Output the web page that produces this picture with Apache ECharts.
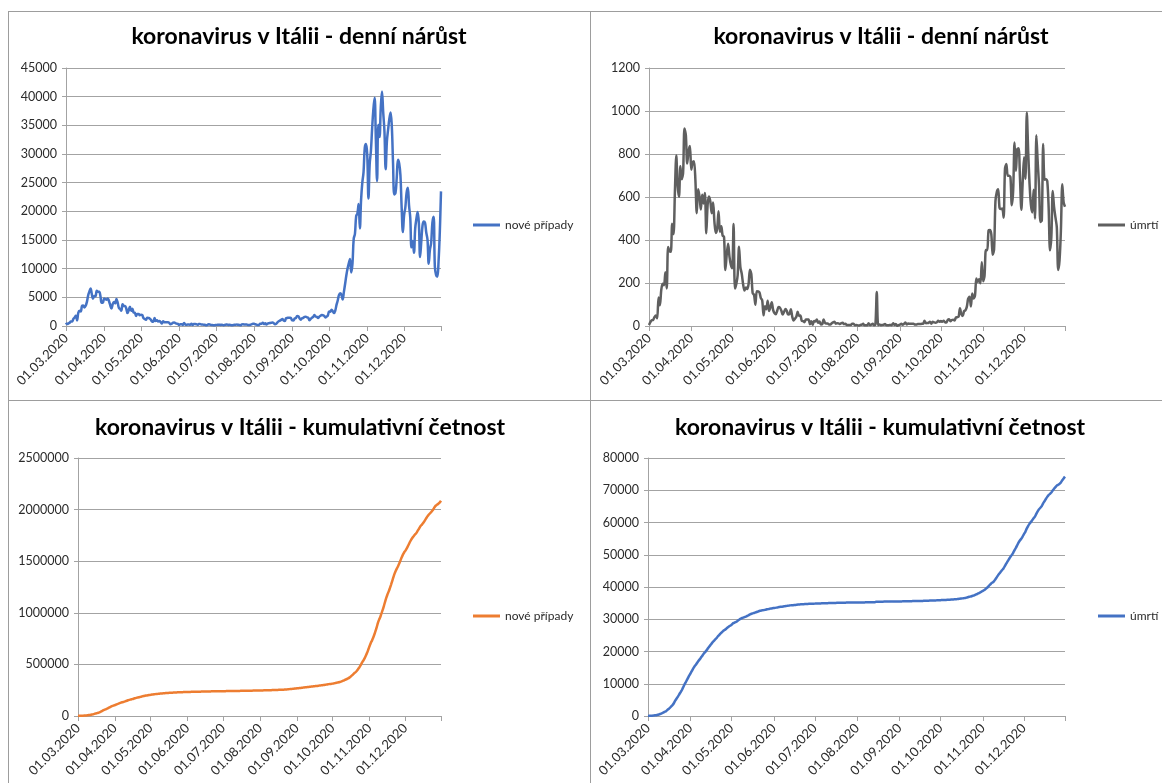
<!DOCTYPE html>
<html>
<head>
<meta charset="utf-8">
<title>koronavirus v Itálii</title>
<script src="https://cdn.jsdelivr.net/npm/echarts@6/dist/echarts.min.js"></script>
<style>
    html, body { margin: 0; padding: 0; background: #fff; }
    #page { position: relative; width: 1162px; height: 783px; overflow: hidden; }
    .panel { position: absolute; }
    .rule { position: absolute; background: #9d9d9d; }
</style>
</head>
<body>
<div id="page">
    <div class="rule" style="left:8px;top:11px;width:1px;height:772px"></div>
    <div class="rule" style="left:590px;top:11px;width:1px;height:772px"></div>
    <div class="rule" style="left:8px;top:11px;width:1154px;height:1px"></div>
    <div class="rule" style="left:8px;top:400px;width:1154px;height:1px"></div>
    <div id="c1" class="panel" style="left:0;top:0;width:598px;height:400px"></div>
    <div id="c2" class="panel" style="left:591px;top:0;width:580px;height:400px"></div>
    <div id="c3" class="panel" style="left:0;top:401px;width:600px;height:382px"></div>
    <div id="c4" class="panel" style="left:591px;top:401px;width:578px;height:382px"></div>
</div>
<script>
// denní data od 01.03.2020 do 31.12.2020
var firstDay = [2020, 2, 1]

// nové případy za den
var dailyCases = [
    573, 335, 466, 587, 769, 778, 1247, 1492, 1797, 977, 2313, 2651, 2547, 3497, 3590, 3233, 3526, 4207, 5322, 5986, 6557, 5560, 4789, 5249, 5210, 6153, 5959, 5974, 5217, 4050, 4053,
    4782, 4668, 4585, 4805, 4316, 3599, 3039, 3836, 4204, 3951, 4694, 4092, 3153, 2972, 2667, 3786, 3493, 3491, 3047, 2256, 2729, 3370, 2646, 3021, 2357, 2324, 1739, 2091, 2086, 1872,
    1965, 1900, 1389, 1221, 1075, 1444, 1401, 1327, 1083, 802, 744, 1402, 888, 992, 789, 875, 675, 451, 813, 665, 642, 652, 669, 531, 300, 397, 584, 593, 516, 416, 355,
    178, 318, 321, 177, 518, 270, 197, 280, 283, 202, 379, 163, 346, 338, 301, 210, 329, 333, 251, 262, 224, 218, 122, 190, 296, 259, 175, 174, 126, 142,
    187, 201, 223, 235, 192, 208, 138, 193, 229, 276, 188, 234, 169, 114, 162, 230, 233, 249, 219, 190, 129, 282, 306, 252, 275, 255, 168, 181, 212, 289, 386,
    379, 295, 238, 159, 190, 384, 402, 552, 347, 463, 259, 412, 481, 523, 574, 629, 479, 320, 403, 642, 845, 947, 1071, 1210, 953, 878, 1367, 1411, 1460, 1444, 1365,
    996, 978, 1326, 1397, 1733, 1695, 1297, 1108, 1370, 1434, 1597, 1616, 1501, 1458, 1008, 1229, 1452, 1585, 1907, 1638, 1587, 1392, 1640, 1786, 1912, 1869, 1766, 1494, 1648, 1851,
    2548, 2499, 2844, 2578, 2257, 2677, 3678, 4458, 5372, 5724, 5456, 4619, 5901, 7332, 8804, 10010, 10925, 11705, 9338, 10874, 15199, 16079, 19143, 19644, 21273, 17012, 21994, 24991, 26831, 31084, 31758,
    29907, 22253, 28244, 30550, 34505, 37809, 39811, 32616, 25271, 35098, 32961, 37978, 40902, 37255, 33979, 27354, 32191, 34282, 36176, 37242, 34767, 28337, 22930, 23232, 25853, 29003, 28352, 26323, 20648, 16377,
    19350, 20709, 23225, 24099, 21052, 18887, 13720, 14842, 12756, 16999, 18727, 19903, 17938, 12030, 14844, 17572, 18236, 17992, 16308, 15104, 10872, 13318, 14522, 18040, 19037, 10407, 8913, 8585, 11212, 16202, 23477
]

// úmrtí za den
var dailyDeaths = [
    5, 18, 27, 28, 41, 49, 36, 133, 97, 168, 196, 189, 250, 175, 368, 349, 345, 475, 427, 627, 793, 651, 601, 743, 683, 712, 919, 889, 756, 812, 837,
    727, 760, 766, 681, 525, 636, 604, 542, 610, 570, 619, 431, 566, 602, 578, 525, 575, 482, 433, 454, 534, 437, 464, 420, 415, 260, 333, 382, 323, 285,
    269, 474, 174, 195, 236, 369, 274, 243, 194, 165, 179, 172, 195, 262, 242, 153, 145, 99, 162, 161, 156, 130, 119, 50, 92, 78, 117, 70, 87, 111, 75,
    60, 55, 71, 88, 85, 72, 53, 65, 79, 71, 53, 56, 78, 44, 26, 34, 43, 66, 47, 49, 24, 23, 18, 30, 30, 30, 8, 22, 6, 23,
    21, 30, 15, 21, 7, 8, 30, 15, 12, 12, 7, 7, 13, 17, 20, 11, 13, 12, 9, 13, 15, 9, 10, 5, 5, 5, 5, 11, 11, 3, 5,
    3, 2, 5, 6, 10, 3, 3, 3, 13, 4, 6, 10, 3, 6, 158, 4, 7, 4, 5, 6, 9, 4, 3, 4, 5, 4, 13, 5, 9, 1, 4,
    6, 10, 6, 10, 16, 7, 12, 10, 10, 10, 10, 7, 7, 9, 9, 9, 10, 10, 24, 13, 14, 15, 20, 10, 20, 17, 15, 17, 24, 20,
    23, 20, 24, 18, 16, 28, 31, 22, 28, 29, 26, 39, 41, 43, 83, 55, 47, 69, 73, 89, 127, 136, 91, 151, 128, 141, 221, 205, 217, 199, 297,
    208, 233, 353, 352, 445, 446, 425, 331, 356, 580, 623, 636, 550, 544, 546, 504, 731, 753, 699, 699, 692, 562, 630, 853, 722, 822, 827, 686, 541, 672,
    785, 684, 993, 814, 662, 564, 528, 634, 499, 887, 761, 649, 484, 491, 846, 680, 683, 674, 553, 352, 415, 628, 553, 505, 459, 261, 305, 445, 659, 575, 555
]

// kumulativní nové případy
var totalCases = [
    1121,
    1694, 2029, 2495, 3082, 3851, 4629, 5876, 7368, 9165, 10142, 12455, 15106, 17653, 21150, 24740, 27973, 31499, 35706, 41028, 47014, 53571, 59131, 63920, 69169, 74379, 80532, 86491, 92465, 97682, 101732, 105785,
    110574, 115242, 119827, 124632, 128948, 132547, 135586, 139422, 143626, 147577, 152271, 156363, 159516, 162488, 165155, 168941, 172434, 175925, 178972, 181228, 183957, 187327, 189973, 192994, 195351, 197675, 199414, 201505, 203591, 205463,
    207428, 209328, 210717, 211938, 213013, 214457, 215858, 217185, 218268, 219070, 219814, 221216, 222104, 223096, 223885, 224760, 225435, 225886, 226699, 227364, 228006, 228658, 229327, 229858, 230158, 230555, 231139, 231732, 232248, 232664, 233019,
    233197, 233515, 233836, 234013, 234531, 234801, 234998, 235278, 235561, 235763, 236142, 236305, 236651, 236989, 237290, 237500, 237829, 238162, 238413, 238675, 238899, 239117, 239239, 239429, 239725, 239984, 240159, 240333, 240459, 240601,
    240788, 240989, 241212, 241447, 241639, 241847, 241985, 242178, 242407, 242683, 242871, 243105, 243274, 243388, 243550, 243780, 244013, 244262, 244481, 244671, 244800, 245082, 245388, 245640, 245915, 246170, 246338, 246519, 246731, 247020, 247406,
    247785, 248080, 248318, 248477, 248667, 249051, 249453, 250005, 250352, 250815, 251074, 251486, 251967, 252490, 253064, 253693, 254172, 254492, 254895, 255537, 256382, 257329, 258400, 259610, 260563, 261441, 262808, 264219, 265679, 267123, 268488,
    269484, 270462, 271788, 273185, 274918, 276613, 277910, 279018, 280388, 281822, 283419, 285035, 286536, 287994, 289002, 290231, 291683, 293268, 295175, 296813, 298400, 299792, 301432, 303218, 305130, 306999, 308765, 310259, 311907, 313758,
    316306, 318805, 321649, 324227, 326484, 329161, 332839, 337297, 342669, 348393, 353849, 358468, 364369, 371701, 380505, 390515, 401440, 413145, 422483, 433357, 448556, 464635, 483778, 503422, 524695, 541707, 563701, 588692, 615523, 646607, 678365,
    708272, 730525, 758769, 789319, 823824, 861633, 901444, 934060, 959331, 994429, 1027390, 1065368, 1106270, 1143525, 1177504, 1204858, 1237049, 1271331, 1307507, 1344749, 1379516, 1407853, 1430783, 1454015, 1479868, 1508871, 1537223, 1563546, 1584194, 1600571,
    1619921, 1640630, 1663855, 1687954, 1709006, 1727893, 1741613, 1756455, 1769211, 1786210, 1804937, 1824840, 1842778, 1854808, 1869652, 1887224, 1905460, 1923452, 1939760, 1954864, 1965736, 1979054, 1993576, 2011616, 2030653, 2041060, 2049973, 2058558, 2069770, 2085972
]

// kumulativní úmrtí
var totalDeaths = [
    34, 52, 79, 107, 148, 197, 233, 366, 463, 631, 827, 1016, 1266, 1441, 1809, 2158, 2503, 2978, 3405, 4032, 4825, 5476, 6077, 6820, 7503, 8215, 9134, 10023, 10779, 11591, 12428,
    13155, 13915, 14681, 15362, 15887, 16523, 17127, 17669, 18279, 18849, 19468, 19899, 20465, 21067, 21645, 22170, 22745, 23227, 23660, 24114, 24648, 25085, 25549, 25969, 26384, 26644, 26977, 27359, 27682, 27967,
    28236, 28710, 28884, 29079, 29315, 29684, 29958, 30201, 30395, 30560, 30739, 30911, 31106, 31368, 31610, 31763, 31908, 32007, 32169, 32330, 32486, 32616, 32735, 32785, 32877, 32955, 33072, 33142, 33229, 33340, 33415,
    33475, 33530, 33601, 33689, 33774, 33846, 33899, 33964, 34043, 34114, 34167, 34223, 34301, 34345, 34371, 34405, 34448, 34514, 34561, 34610, 34634, 34657, 34675, 34705, 34735, 34765, 34773, 34795, 34801, 34824,
    34845, 34875, 34890, 34911, 34918, 34926, 34956, 34971, 34983, 34995, 35002, 35009, 35022, 35039, 35059, 35070, 35083, 35095, 35104, 35117, 35132, 35141, 35151, 35156, 35161, 35166, 35171, 35182, 35193, 35196, 35201,
    35204, 35206, 35211, 35217, 35227, 35230, 35233, 35236, 35249, 35253, 35259, 35269, 35272, 35278, 35436, 35440, 35447, 35451, 35456, 35462, 35471, 35475, 35478, 35482, 35487, 35491, 35504, 35509, 35518, 35519, 35523,
    35529, 35539, 35545, 35555, 35571, 35578, 35590, 35600, 35610, 35620, 35630, 35637, 35644, 35653, 35662, 35671, 35681, 35691, 35715, 35728, 35742, 35757, 35777, 35787, 35807, 35824, 35839, 35856, 35880, 35900,
    35923, 35943, 35967, 35985, 36001, 36029, 36060, 36082, 36110, 36139, 36165, 36204, 36245, 36288, 36371, 36426, 36473, 36542, 36615, 36704, 36831, 36967, 37058, 37209, 37337, 37478, 37699, 37904, 38121, 38320, 38617,
    38825, 39058, 39411, 39763, 40208, 40654, 41079, 41410, 41766, 42346, 42969, 43605, 44155, 44699, 45245, 45749, 46480, 47233, 47932, 48631, 49323, 49885, 50515, 51368, 52090, 52912, 53739, 54425, 54966, 55638,
    56423, 57107, 58100, 58914, 59576, 60140, 60668, 61302, 61801, 62688, 63449, 64098, 64582, 65073, 65919, 66599, 67282, 67956, 68509, 68861, 69276, 69904, 70457, 70962, 71421, 71682, 71987, 72432, 73091, 73666, 74221
]

// osy y: min, max a krok
var casesAxis = [0, 45000, 5000]
var deathsAxis = [0, 1200, 200]
var totalCasesAxis = [0, 2500000, 500000]
var totalDeathsAxis = [0, 80000, 10000]

var titleDaily = 'koronavirus v Itálii - denní nárůst'
var titleTotal = 'koronavirus v Itálii - kumulativní četnost'
var nameCases = 'nové případy'
var nameDeaths = 'úmrtí'

// popisky dnů 01.03.2020 ...
var pad = function(n) {
    return (n < 10 ? '0' : '') + n
}
var days = []
for (var i = 0; i < dailyCases.length; i++) {
    var d = new Date(firstDay[0], firstDay[1], firstDay[2] + i)
    days.push(pad(d.getDate()) + '.' + pad(d.getMonth() + 1) + '.' + d.getFullYear())
}

var font = 'Lato, "Open Sans", sans-serif'
var gridColor = '#a3a3a3'
var textColor = '#2b2b2b'

var makeChart = function(id, c) {
    var myChart = echarts.init(document.getElementById(id))
    var option = {
        animation: false,
        title: {
            text: c.title,
            left: 'center',
            top: c.titleTop,
            textStyle: {
                fontFamily: font,
                fontSize: 23,
                fontWeight: 'bold',
                color: '#000'
            }
        },
        legend: {
            data: [c.name],
            left: c.legendLeft,
            top: c.legendTop,
            padding: 0,
            orient: 'vertical',
            icon: 'rect',
            itemWidth: 27,
            itemHeight: 3,
            textStyle: {
                fontFamily: font,
                fontSize: 12,
                color: textColor
            }
        },
        grid: c.grid,
        xAxis: {
            type: 'category',
            boundaryGap: false,
            data: days,
            axisLine: {
                lineStyle: { color: gridColor, width: 1 }
            },
            axisTick: {
                inside: false,
                length: 5,
                lineStyle: { color: gridColor },
                interval: function(index, value) {
                    return value.slice(0, 2) === '01' || index === days.length - 1
                }
            },
            axisLabel: {
                rotate: 45,
                margin: 10,
                fontFamily: font,
                fontSize: 13,
                color: textColor,
                interval: function(index, value) {
                    return value.slice(0, 2) === '01'
                }
            },
            splitLine: { show: false }
        },
        yAxis: {
            type: 'value',
            min: c.axis[0],
            max: c.axis[1],
            interval: c.axis[2],
            axisLine: {
                show: true,
                lineStyle: { color: gridColor, width: 1 }
            },
            axisTick: {
                show: true,
                length: 4,
                lineStyle: { color: gridColor }
            },
            axisLabel: {
                margin: 9,
                fontFamily: font,
                fontSize: 12.5,
                color: textColor,
                formatter: function(v) {
                    return String(v)
                }
            },
            splitLine: {
                lineStyle: { color: gridColor, width: 1 }
            }
        },
        series: [
            {
                name: c.name,
                type: 'line',
                data: c.data,
                symbol: 'none',
                showSymbol: false,
                smooth: c.smooth,
                color: c.color,
                lineStyle: { width: 2.5, color: c.color }
            }
        ]
    }
    myChart.setOption(option)
}

makeChart('c1', {
    title: titleDaily, titleTop: 20, name: nameCases, data: dailyCases, axis: casesAxis,
    color: '#4472C4', smooth: 0.4, legendLeft: 473, legendTop: 219,
    grid: { left: 66, top: 68, width: 375, height: 258, outerBoundsMode: 'none' }
})
makeChart('c2', {
    title: titleDaily, titleTop: 20, name: nameDeaths, data: dailyDeaths, axis: deathsAxis,
    color: '#5f5f5f', smooth: 0.3, legendLeft: 507, legendTop: 219,
    grid: { left: 58, top: 68, width: 416, height: 258, outerBoundsMode: 'none' }
})
makeChart('c3', {
    title: titleTotal, titleTop: 10, name: nameCases, data: totalCases, axis: totalCasesAxis,
    color: '#ED7D31', smooth: 0.3, legendLeft: 473, legendTop: 209,
    grid: { left: 78, top: 57, width: 363, height: 258, outerBoundsMode: 'none' }
})
makeChart('c4', {
    title: titleTotal, titleTop: 10, name: nameDeaths, data: totalDeaths, axis: totalDeathsAxis,
    color: '#4472C4', smooth: 0.3, legendLeft: 507, legendTop: 209,
    grid: { left: 57, top: 57, width: 417, height: 258, outerBoundsMode: 'none' }
})
</script>
</body>
</html>
